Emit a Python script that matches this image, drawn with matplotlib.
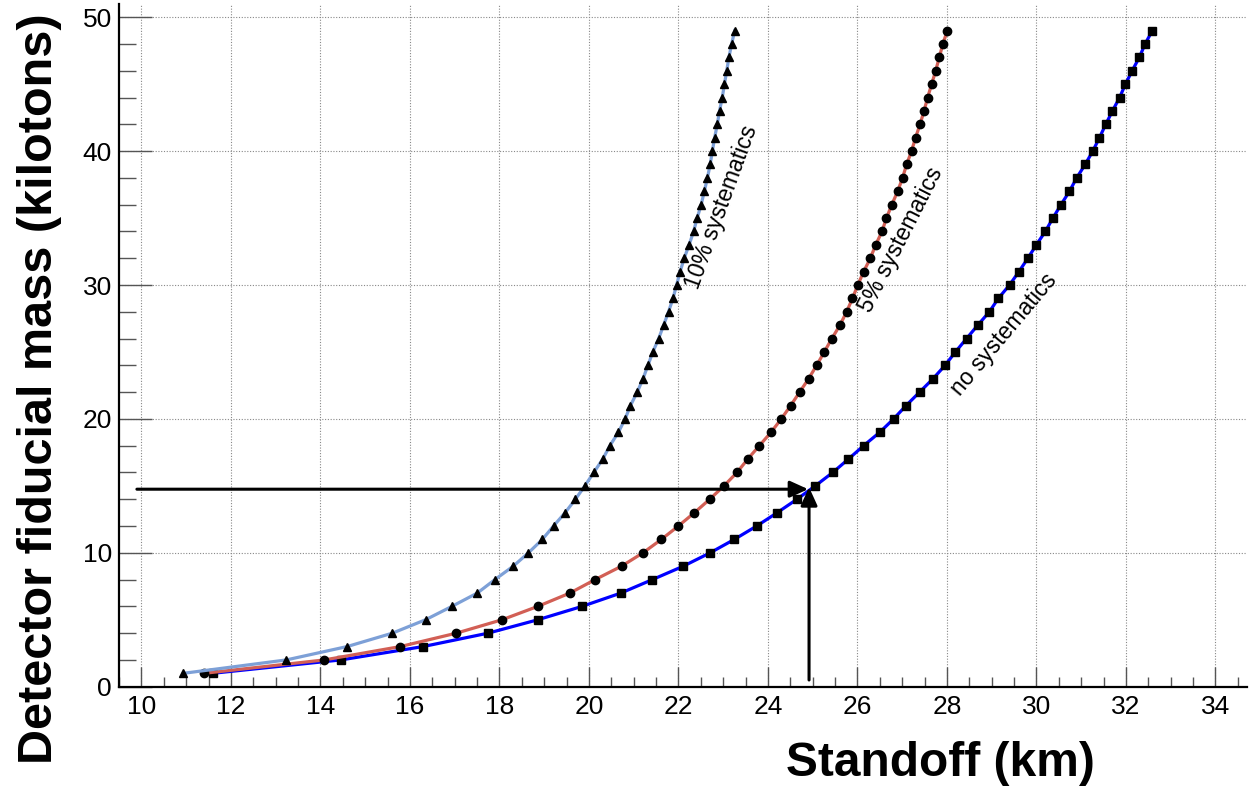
import matplotlib
matplotlib.use("Agg")
import matplotlib.pyplot as plt
from matplotlib.ticker import MultipleLocator

plt.rcParams['font.family'] = ['Liberation Sans', 'DejaVu Sans']

# Detector fiducial mass (kilotons) for each point
mass = list(range(1, 50))

# Standoff (km) for each mass, 10% systematics
x_sys10 = [10.94, 13.24, 14.60, 15.61, 16.35, 16.94, 17.51, 17.90, 18.31, 18.65,
           18.96, 19.21, 19.47, 19.70, 19.91, 20.11, 20.31, 20.47, 20.66, 20.81,
           20.93, 21.08, 21.21, 21.32, 21.43, 21.56, 21.67, 21.78, 21.88, 21.96,
           22.04, 22.13, 22.24, 22.34, 22.42, 22.51, 22.58, 22.65, 22.71, 22.76,
           22.81, 22.87, 22.92, 22.98, 23.03, 23.08, 23.13, 23.19, 23.26]

# Standoff (km), 5% systematics
x_sys5 = [11.40, 14.09, 15.79, 17.04, 18.06, 18.86, 19.58, 20.14, 20.73, 21.21,
          21.62, 22.00, 22.36, 22.70, 23.02, 23.31, 23.55, 23.81, 24.07, 24.30,
          24.51, 24.71, 24.91, 25.09, 25.26, 25.43, 25.61, 25.76, 25.89, 26.01,
          26.14, 26.29, 26.41, 26.55, 26.65, 26.77, 26.90, 27.01, 27.10, 27.21,
          27.30, 27.40, 27.49, 27.57, 27.66, 27.75, 27.83, 27.91, 28.01]

# Standoff (km), no systematics
x_sys0 = [11.59, 14.46, 16.30, 17.75, 18.86, 19.85, 20.72, 21.42, 22.11, 22.71,
          23.25, 23.75, 24.21, 24.65, 25.06, 25.45, 25.80, 26.14, 26.50, 26.81,
          27.09, 27.39, 27.69, 27.96, 28.19, 28.44, 28.69, 28.95, 29.15, 29.40,
          29.61, 29.81, 30.00, 30.20, 30.37, 30.55, 30.74, 30.90, 31.09, 31.26,
          31.41, 31.55, 31.70, 31.86, 31.99, 32.14, 32.30, 32.43, 32.59]

labels = ["10% systematics", "5% systematics", "no systematics"]

W, H = 1249, 787
fig = plt.figure(figsize=(W / 100, H / 100), dpi=100)
ax = fig.add_axes([119 / W, (H - 686.7) / H, (1246.7 - 119) / W, 51 * 13.39 / H])

ax.set_xlim(9.5, 34.7)
ax.set_ylim(0, 51)

ax.grid(which='major', ls=(0, (1, 1.5)), color='#888888', lw=0.8, zorder=0)

ax.plot(x_sys0, mass, color='#0000ff', lw=2.3, marker='s', ms=6.0,
        mfc='black', mec='black', zorder=3)
ax.plot(x_sys5, mass, color='#d25f55', lw=2.3, marker='o', ms=6.0,
        mfc='black', mec='black', zorder=3)
ax.plot(x_sys10, mass, color='#7da0d7', lw=2.3, marker='^', ms=6.2,
        mfc='black', mec='black', zorder=3)

# arrows indicating a 15 kt detector at 25 km
ap = dict(arrowstyle='-|>,head_length=0.55,head_width=0.25', color='black',
          lw=2.2, shrinkA=0, shrinkB=0, mutation_scale=20)
ax.annotate('', xy=(24.9, 14.75), xytext=(9.9, 14.75), arrowprops=ap,
            zorder=5, annotation_clip=False)
ax.annotate('', xy=(24.92, 14.9), xytext=(24.92, 0.5), arrowprops=ap,
            zorder=5, annotation_clip=False)

# curve labels
ax.text(22.97, 35.85, labels[0], rotation=70, ha='center', va='center',
        rotation_mode='anchor', fontsize=16.5, zorder=6)
ax.text(26.98, 33.36, labels[1], rotation=63, ha='center', va='center',
        rotation_mode='anchor', fontsize=16.5, zorder=6)
ax.text(29.28, 26.27, labels[2], rotation=50, ha='center', va='center',
        rotation_mode='anchor', fontsize=16.5, zorder=6)

ax.xaxis.set_major_locator(MultipleLocator(2))
ax.xaxis.set_minor_locator(MultipleLocator(0.5))
ax.yaxis.set_major_locator(MultipleLocator(10))
ax.yaxis.set_minor_locator(MultipleLocator(2))

ax.tick_params(axis='x', which='major', direction='in', length=14.4, width=1,
               color='#555555', labelsize=19, pad=6, top=False)
ax.tick_params(axis='x', which='minor', direction='in', length=7.2, width=1,
               color='#555555', top=False)
ax.tick_params(axis='y', which='major', direction='in', length=24, width=1,
               color='#555555', labelsize=19, pad=5, right=False)
ax.tick_params(axis='y', which='minor', direction='in', length=12, width=1,
               color='#555555', right=False)

for s in ('top', 'right'):
    ax.spines[s].set_visible(False)
for s in ('left', 'bottom'):
    ax.spines[s].set_linewidth(1.6)
    ax.spines[s].set_color('black')

fig.text(1095 / W, 1 - 776 / H, "Standoff (km)", ha='right', va='baseline',
         fontsize=34.5, fontweight='bold')
fig.text(40 / W, 1 - 389 / H, "Detector fiducial mass (kilotons)", rotation=90,
         ha='center', va='center', fontsize=35, fontweight='bold')

fig.savefig("out.png", dpi=100)
